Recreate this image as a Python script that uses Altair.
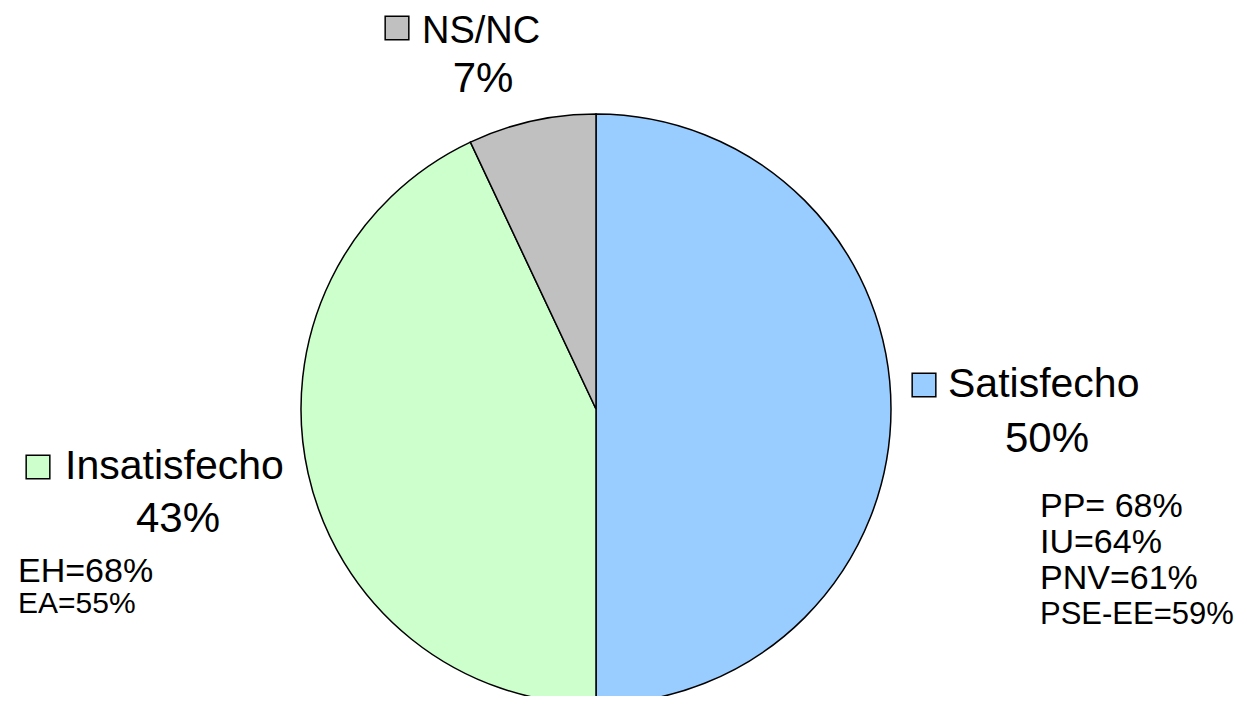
import altair as alt
import pandas as pd

# ---- data ----
categories = ["Satisfecho", "Insatisfecho", "NS/NC"]
shares = [50, 43, 7]
colors = ["#99CCFF", "#CCFFCC", "#C0C0C0"]
share_labels = ["50%", "43%", "7%"]
party_sat = ["PP= 68%", "IU=64%", "PNV=61%", "PSE-EE=59%"]
party_insat = ["EH=68%", "EA=55%"]

FONT = "Liberation Sans"
W, H = 1231, 688
cx, cy, R = 588, 401, 295

pie_df = pd.DataFrame({"cat": categories, "share": shares, "order": list(range(len(categories)))})

pie = alt.Chart(pie_df).mark_arc(outerRadius=R, stroke="black", strokeWidth=1.5).encode(
    theta=alt.Theta("share:Q", stack=True),
    order=alt.Order("order:Q"),
    color=alt.Color("cat:N", scale=alt.Scale(domain=categories, range=colors), legend=None),
    x=alt.value(cx),
    y=alt.value(cy),
)

# ---- label layout (positions kept separate from data) ----
sq_pos = {"Satisfecho": (916, 377), "Insatisfecho": (30, 459), "NS/NC": (389, 20)}
name_pos = {"Satisfecho": (940, 389), "Insatisfecho": (57, 471)}
pct_pos = {"Satisfecho": (1039, 444), "Insatisfecho": (170, 524), "NS/NC": (475, 84)}


def txt(df, size, align="left"):
    return alt.Chart(df).mark_text(font=FONT, fontSize=size, align=align,
                                   baseline="alphabetic", color="black").encode(
        x=alt.X("x:Q", scale=None), y=alt.Y("y:Q", scale=None), text="t:N"
    )


sq_df = pd.DataFrame({
    "cat": categories,
    "x": [sq_pos[c][0] for c in categories],
    "y": [sq_pos[c][1] for c in categories],
})
squares = alt.Chart(sq_df).mark_square(size=560, stroke="black", strokeWidth=1.5, opacity=1).encode(
    x=alt.X("x:Q", scale=None),
    y=alt.Y("y:Q", scale=None),
    fill=alt.Fill("cat:N", scale=alt.Scale(domain=categories, range=colors), legend=None),
)

name_df = pd.DataFrame({
    "t": categories[:2],
    "x": [name_pos[c][0] for c in categories[:2]],
    "y": [name_pos[c][1] for c in categories[:2]],
})
nsnc_df = pd.DataFrame({"t": [categories[2]], "x": [414], "y": [35]})
pct_df = pd.DataFrame({
    "t": share_labels,
    "x": [pct_pos[c][0] for c in categories],
    "y": [pct_pos[c][1] for c in categories],
})

sat_main_df = pd.DataFrame({"t": party_sat[:3], "x": [1032] * 3, "y": [509, 545, 581]})
sat_last_df = pd.DataFrame({"t": party_sat[3:], "x": [1032], "y": [616]})
eh_df = pd.DataFrame({"t": [party_insat[0]], "x": [10], "y": [574]})
ea_df = pd.DataFrame({"t": [party_insat[1]], "x": [10], "y": [605]})

chart = alt.layer(
    pie, squares,
    txt(name_df, 41), txt(nsnc_df, 38), txt(pct_df, 42, "center"),
    txt(sat_main_df, 34), txt(sat_last_df, 31),
    txt(eh_df, 34), txt(ea_df, 30),
).properties(
    width=W, height=H, padding=0, autosize=alt.AutoSizeParams(type="none"),
    background="white",
).configure_view(stroke=None)

chart.save("out.html", embed_options={"renderer": "svg", "actions": False})
